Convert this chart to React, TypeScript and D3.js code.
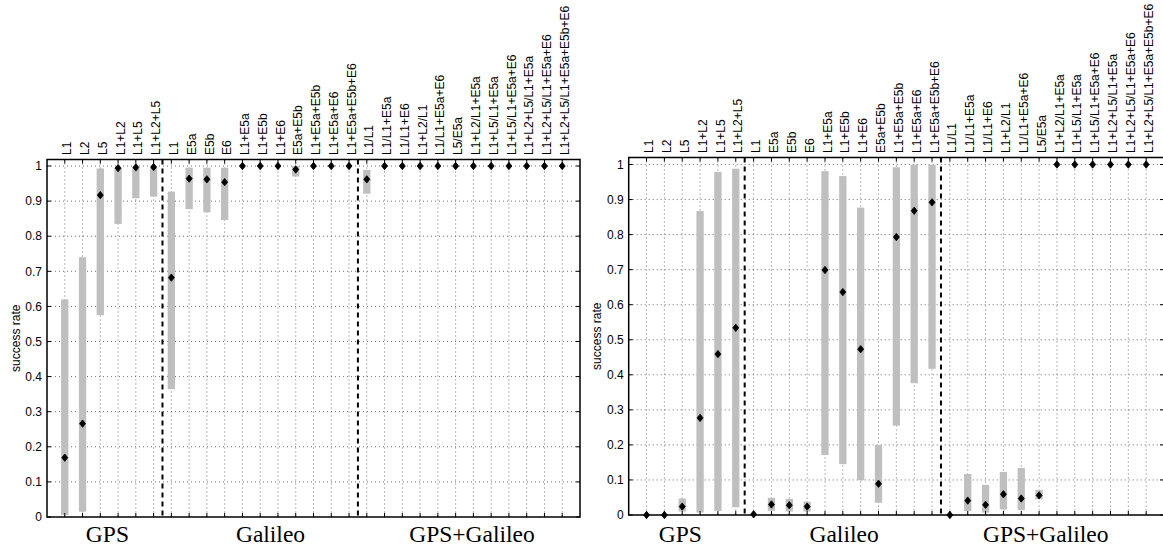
import React from 'react';
import * as d3 from 'd3';

const groupNames = ['GPS', 'Galileo', 'GPS+Galileo'];
const gpsCombos = ['L1', 'L2', 'L5', 'L1+L2', 'L1+L5', 'L1+L2+L5'];
const galileoCombos = ['L1', 'E5a', 'E5b', 'E6', 'L1+E5a', 'L1+E5b', 'L1+E6', 'E5a+E5b', 'L1+E5a+E5b', 'L1+E5a+E6', 'L1+E5a+E5b+E6'];
const gpsGalileoCombos = ['L1/L1', 'L1/L1+E5a', 'L1/L1+E6', 'L1+L2/L1', 'L1/L1+E5a+E6', 'L5/E5a', 'L1+L2/L1+E5a', 'L1+L5/L1+E5a', 'L1+L5/L1+E5a+E6', 'L1+L2+L5/L1+E5a', 'L1+L2+L5/L1+E5a+E6', 'L1+L2+L5/L1+E5a+E5b+E6'];
const categories = [...gpsCombos, ...galileoCombos, ...gpsGalileoCombos];
const yTicks = [0, 0.1, 0.2, 0.3, 0.4, 0.5, 0.6, 0.7, 0.8, 0.9, 1];

// Left panel
const leftMean = [0.169, 0.266, 0.917, 0.994, 0.996, 0.997,
  0.682, 0.964, 0.962, 0.954, 1, 1, 1, 0.99, 1, 1, 1,
  0.962, 1, 1, 1, 1, 1, 1, 1, 1, 1, 1, 1];
const leftLow = [0.006, 0.015, 0.575, 0.835, 0.908, 0.913,
  0.364, 0.877, 0.868, 0.846, 1, 1, 1, 0.97, 1, 1, 1,
  0.921, 1, 1, 1, 1, 1, 1, 1, 1, 1, 1, 1];
const leftHigh = [0.62, 0.74, 0.993, 0.995, 0.995, 0.995,
  0.927, 0.995, 0.995, 0.995, 1, 1, 1, 1.0, 1, 1, 1,
  0.989, 1, 1, 1, 1, 1, 1, 1, 1, 1, 1, 1];

// Right panel
const rightMean = [0, 0, 0.024, 0.277, 0.459, 0.534,
  0.002, 0.03, 0.028, 0.024, 0.699, 0.636, 0.473, 0.089, 0.793, 0.868, 0.892,
  0, 0.041, 0.029, 0.059, 0.047, 0.056, 1, 1, 1, 1, 1, 1];
const rightLow = [0, 0, 0.01, 0.007, 0.012, 0.022,
  0.002, 0.012, 0.01, 0.01, 0.171, 0.145, 0.099, 0.035, 0.255, 0.376, 0.417,
  0, 0.011, 0.007, 0.016, 0.014, 0.045, 1, 1, 1, 1, 1, 1];
const rightHigh = [0, 0, 0.047, 0.867, 0.979, 0.988,
  0.002, 0.049, 0.046, 0.038, 0.981, 0.967, 0.877, 0.2, 0.992, 0.999, 0.999,
  0, 0.117, 0.086, 0.123, 0.134, 0.071, 1, 1, 1, 1, 1, 1];

const separators = [gpsCombos.length + 0.5, gpsCombos.length + galileoCombos.length + 0.5];

type PanelProps = {
  left: number; right: number; top: number; y0: number; y1: number;
  mean: number[]; low: number[]; high: number[];
  groupX: number[]; groupY: number;
};

const SANS = 'Liberation Sans, Arial, Helvetica, sans-serif';
const SERIF = 'Liberation Serif, Times New Roman, serif';

function Panel(p: PanelProps) {
  const x = d3.scaleLinear().domain([0, categories.length + 1]).range([p.left, p.right]);
  const y = d3.scaleLinear().domain([0, 1]).range([p.y0, p.y1]);
  const tl = 4;
  const diamond = (cx: number, cy: number) =>
    `M${cx},${cy - 3.7}L${cx + 3},${cy}L${cx},${cy + 3.7}L${cx - 3},${cy}Z`;
  const bw = 7.3;
  return (
    <g>
      {/* grid */}
      {yTicks.filter(t => t > 0).map(t => (
        <line key={'gy' + t} x1={p.left} x2={p.right} y1={y(t)} y2={y(t)}
          stroke="#333" strokeWidth={0.7} strokeDasharray="1,3" />
      ))}
      {categories.map((c, i) => (
        <line key={'gx' + i} x1={x(i + 1)} x2={x(i + 1)} y1={p.top} y2={p.y0}
          stroke="#333" strokeWidth={0.7} strokeDasharray="1,3" />
      ))}
      {/* bars */}
      {categories.map((c, i) => p.high[i] > p.low[i] ? (
        <rect key={'b' + i} x={x(i + 1) - bw / 2} width={bw} y={y(p.high[i])}
          height={y(p.low[i]) - y(p.high[i])} fill="#bfbfbf" />
      ) : null)}
      {/* separators */}
      {separators.map(s => (
        <line key={'s' + s} x1={x(s)} x2={x(s)} y1={p.top} y2={p.y0}
          stroke="#000" strokeWidth={2} strokeDasharray="5,4" />
      ))}
      {/* ticks */}
      {yTicks.map(t => (
        <g key={'ty' + t}>
          <line x1={p.left} x2={p.left + tl} y1={y(t)} y2={y(t)} stroke="#000" strokeWidth={1} />
          <line x1={p.right} x2={p.right - tl} y1={y(t)} y2={y(t)} stroke="#000" strokeWidth={1} />
          <text x={p.left - 5} y={y(t)} dy="0.35em" textAnchor="end" fontFamily={SANS} fontSize={12}>
            {String(+t.toFixed(1))}
          </text>
        </g>
      ))}
      {categories.map((c, i) => (
        <g key={'tx' + i}>
          <line x1={x(i + 1)} x2={x(i + 1)} y1={p.y0} y2={p.y0 - tl} stroke="#000" strokeWidth={1} />
          <line x1={x(i + 1)} x2={x(i + 1)} y1={p.top} y2={p.top + tl} stroke="#000" strokeWidth={1} />
          <text transform={`translate(${x(i + 1) + 2.4},${p.top - 4.5}) rotate(-90)`} dy="0.35em"
            fontFamily={SANS} fontSize={12}>{c}</text>
        </g>
      ))}
      {/* box */}
      <rect x={p.left} y={p.top} width={p.right - p.left} height={p.y0 - p.top}
        fill="none" stroke="#000" strokeWidth={1.5} />
      {/* markers */}
      {categories.map((c, i) => (
        <path key={'m' + i} d={diamond(x(i + 1), y(p.mean[i]))} fill="#000" stroke="#000" strokeWidth={0.8} />
      ))}
      {/* y label */}
      <text transform={`translate(${p.left - 31.5},${(p.y0 + p.top) / 2}) rotate(-90)`} dy="0.35em"
        textAnchor="middle" fontFamily={SANS} fontSize={12}>success rate</text>
      {/* group labels */}
      {groupNames.map((g, i) => (
        <text key={'g' + g} x={x(p.groupX[i])} y={p.groupY} textAnchor="middle"
          fontFamily={SERIF} fontSize={23.5}>{g}</text>
      ))}
    </g>
  );
}

export default function App() {
  return (
    <svg width={1163} height={550} style={{ position: 'absolute', left: 0, top: 0, background: '#fff' }}>
      <rect width={1163} height={550} fill="#fff" />
      <Panel left={47} right={580} top={159.5} y0={517} y1={166}
        mean={leftMean} low={leftLow} high={leftHigh}
        groupX={[3.4, 12.58, 23.92]} groupY={542} />
      <Panel left={628.7} right={1164} top={157.5} y0={515} y1={164.5}
        mean={rightMean} low={rightLow} high={rightHigh}
        groupX={[2.89, 12.07, 23.37]} groupY={541.5} />
    </svg>
  );
}
